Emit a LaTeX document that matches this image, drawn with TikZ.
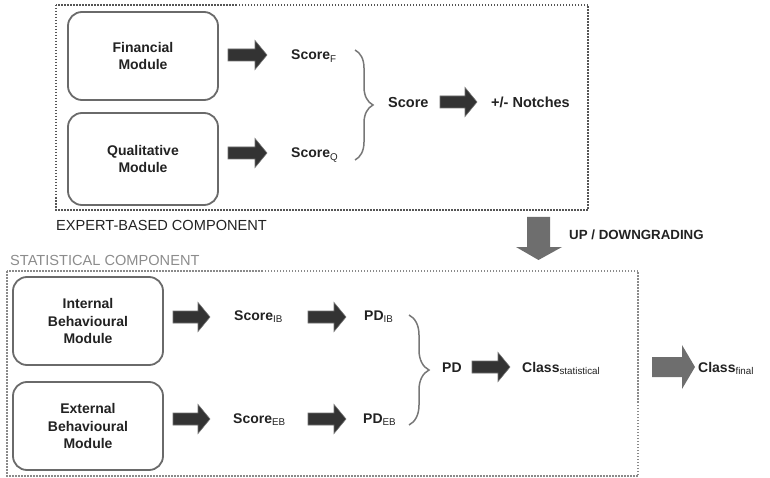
\documentclass[tikz,border=0pt]{standalone}
\usepackage{fontspec}
\setmainfont{Liberation Sans}
\usetikzlibrary{decorations.pathreplacing}
\definecolor{txt}{HTML}{222222}
\definecolor{boxline}{HTML}{6A6A6A}
\definecolor{darrow}{HTML}{333333}
\definecolor{garrow}{HTML}{6E6E6E}
\definecolor{brc}{HTML}{777777}
\definecolor{dotA}{HTML}{555555}
\definecolor{dotB}{HTML}{8A8A8A}
\definecolor{lblB}{HTML}{8C8C8C}
\newcommand{\rblk}[3]{\fill[darrow, draw=darrow!70!white, line width=0.6pt] (#1,#3-6) -- (#2-12,#3-6) -- (#2-12,#3-14.5) -- (#2,#3) -- (#2-12,#3+14.5) -- (#2-12,#3+6) -- (#1,#3+6) -- cycle;}
\tikzset{
  module/.style={draw=boxline, line width=1.8pt, rounded corners=14pt, minimum width=150pt,
    align=center, text=txt, font=\bfseries\fontsize{14}{17.5}\selectfont, inner sep=0pt},
  lbl/.style={anchor=base west, inner sep=0pt, text=txt, font=\bfseries\fontsize{14}{17}\selectfont},
  biglbl/.style={lbl, font=\bfseries\fontsize{14.5}{17}\selectfont},
  comp/.style={anchor=base west, inner sep=0pt, font=\fontsize{14.6}{17}\selectfont},
  dotframe/.style={line width=1.5pt, dash pattern=on 1.5pt off 1.5pt},
  bracestyle/.style={draw=brc, line width=1.5pt, decorate}
}
\newcommand{\sub}[1]{\textsubscript{\mdseries #1}}
\begin{document}
\begin{tikzpicture}[x=1pt, y=-1pt]
\useasboundingbox (0,0) rectangle (770,478);

% frames
\draw[dotframe, dotA] (56,5) rectangle (588,210);
\draw[dotframe, dotB] (7,271) rectangle (638,476);

% expert-based component
\node[module, minimum height=88pt] (fin) at (143,56) {Financial\\Module};
\node[module, minimum height=92pt] (qual) at (143,159) {Qualitative\\Module};
\node[lbl] (sf) at (291,60) {Score\sub{F}};
\node[lbl] (sq) at (291,158) {Score\sub{Q}};
\coordinate (b1t) at (355,50);
\coordinate (b1b) at (355,160);
\draw[bracestyle, decoration={brace, amplitude=18pt}] (b1t) -- (b1b);
\node[biglbl] (score) at (388,108) {Score};
\node[biglbl] (notch) at (491,108) {+/- Notches};
\node[comp, text=txt] (expert) at (56,230) {EXPERT-BASED COMPONENT};

\rblk{228}{267}{55}
\rblk{228}{267}{153}
\rblk{440}{477}{102}

% up/downgrading
\fill[garrow] (527,217) -- (550,217) -- (550,247) -- (562,247) -- (538.5,260) -- (516,247) -- (527,247) -- cycle;
\node[anchor=base west, inner sep=0pt, text=txt, font=\bfseries\fontsize{13.3}{16}\selectfont] (updown) at (569,240) {UP / DOWNGRADING};

% statistical component
\node[comp, text=lblB] (stat) at (10,265) {STATISTICAL COMPONENT};
\node[module, minimum height=88pt] (ib) at (88,321) {Internal\\Behavioural\\Module};
\node[module, minimum height=88pt] (eb) at (88,426) {External\\Behavioural\\Module};
\node[lbl] (sib) at (234,320) {Score\sub{IB}};
\node[lbl] (seb) at (233,423) {Score\sub{EB}};
\node[lbl] (pib) at (364,320) {PD\sub{IB}};
\node[lbl] (peb) at (363,423) {PD\sub{EB}};
\coordinate (b2t) at (409,315);
\coordinate (b2b) at (409,425);
\draw[bracestyle, decoration={brace, amplitude=20pt}] (b2t) -- (b2b);
\node[lbl] (pd) at (442,372) {PD};
\node[lbl] (cstat) at (522,372) {Class\sub{statistical}};
\node[lbl] (cfin) at (698,372) {Class\sub{final}};

\rblk{173}{210}{317}
\rblk{173}{210}{419}
\rblk{308}{346}{317}
\rblk{308}{346}{419}
\rblk{472}{510}{367}

\fill[garrow] (652,357) -- (682,357) -- (682,345) -- (695,367) -- (682,389) -- (682,377) -- (652,377) -- cycle;
\end{tikzpicture}
\end{document}
